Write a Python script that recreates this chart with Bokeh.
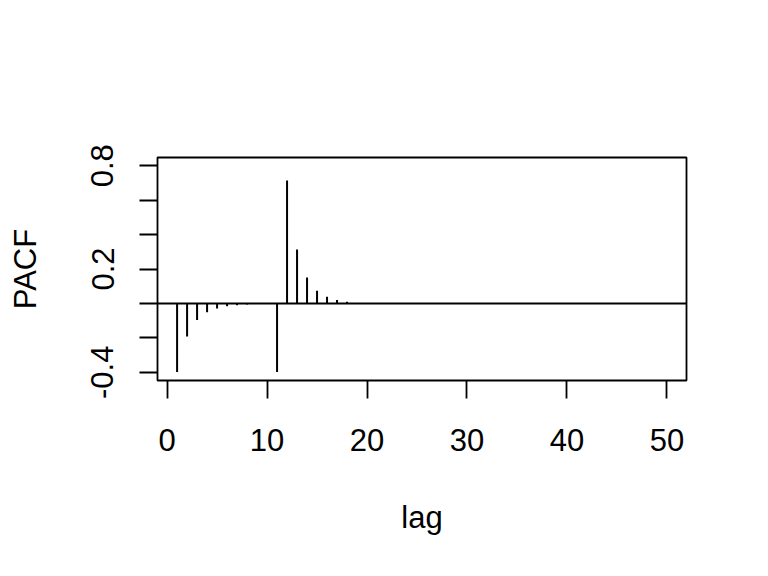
import math
from bokeh.plotting import figure
from bokeh.models import Range1d, FixedTicker, Span
from bokeh.embed import file_html
from bokeh.resources import INLINE

lags = [1, 2, 3, 4, 5, 6, 7, 8, 9, 10,
        11, 12, 13, 14, 15, 16, 17, 18, 19, 20,
        21, 22, 23, 24, 25, 26, 27, 28, 29, 30,
        31, 32, 33, 34, 35, 36, 37, 38, 39, 40,
        41, 42, 43, 44, 45, 46, 47, 48, 49, 50]
pacf = [-0.398, -0.192, -0.097, -0.052, -0.029, -0.017, -0.010, -0.006, -0.004, -0.002,
        -0.398, 0.715, 0.313, 0.150, 0.073, 0.039, 0.020, 0.010, 0.0, 0.0,
        0.0, 0.0, 0.0, 0.0, 0.0, 0.0, 0.0, 0.0, 0.0, 0.0,
        0.0, 0.0, 0.0, 0.0, 0.0, 0.0, 0.0, 0.0, 0.0, 0.0,
        0.0, 0.0, 0.0, 0.0, 0.0, 0.0, 0.0, 0.0, 0.0, 0.0]
x_ticks = [0, 10, 20, 30, 40, 50]
y_ticks = [-0.4, -0.2, 0, 0.2, 0.4, 0.6, 0.8]
y_tick_labels = {-0.4: "-0.4", -0.2: "", 0: "", 0.2: "0.2", 0.4: "", 0.6: "", 0.8: "0.8"}

FONT = "Liberation Sans"
FS = "31px"

p = figure(width=752, height=560, output_backend="svg", toolbar_location=None,
           x_range=Range1d(-0.96, 51.96), y_range=Range1d(-0.448, 0.848),
           min_border_left=157, min_border_right=66, min_border_top=157, min_border_bottom=180)
p.grid.visible = False
p.outline_line_color = "black"
p.outline_line_width = 1.8
p.background_fill_color = "white"
p.border_fill_color = "white"

p.segment(x0=lags, y0=[0] * len(lags), x1=lags, y1=pacf, line_color="black", line_width=2)
p.add_layout(Span(location=0, dimension="width", line_color="black", line_width=2))

for ax in (p.xaxis[0], p.yaxis[0]):
    ax.axis_line_color = None
    ax.major_tick_out = 18
    ax.major_tick_in = 0
    ax.minor_tick_line_color = None
    ax.major_tick_line_width = 1.8
    ax.major_label_text_font = FONT
    ax.major_label_text_font_size = FS
    ax.major_label_text_color = "black"
    ax.axis_label_text_font = FONT
    ax.axis_label_text_font_size = FS
    ax.axis_label_text_font_style = "normal"
    ax.axis_label_text_color = "black"

p.xaxis.ticker = FixedTicker(ticks=x_ticks)
p.xaxis.axis_label = "lag"
p.xaxis.major_label_standoff = 30
p.xaxis.axis_label_standoff = 46

p.yaxis.ticker = FixedTicker(ticks=y_ticks)
p.yaxis.major_label_overrides = y_tick_labels
p.yaxis.major_label_orientation = "vertical"
p.yaxis.axis_label = "PACF"
p.yaxis.major_label_standoff = 26
p.yaxis.axis_label_standoff = 46

open("out.html", "w").write(file_html(p, INLINE))
